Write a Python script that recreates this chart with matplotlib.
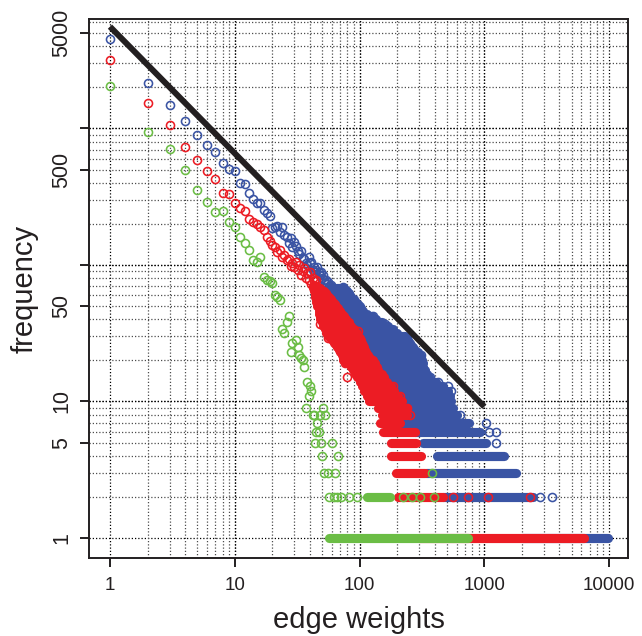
import matplotlib
matplotlib.use('Agg')
import matplotlib.pyplot as plt
from matplotlib.collections import LineCollection
from matplotlib.ticker import FixedLocator, FixedFormatter, NullLocator

plt.rcParams['font.family'] = ['Liberation Sans', 'DejaVu Sans']

# colours of the three series
blue = '#3a54a4'
red = '#ec1c24'
green = '#6bbd45'
ink = '#231f20'

# ---- blue series: single points (weight, frequency)
blue_w = [1, 2, 3, 4, 5, 6, 7, 8, 9, 10, 11, 12, 13, 14, 15, 16, 17, 18, 19, 20,
          21, 22, 23, 24, 25, 26, 27, 28, 29, 30, 31, 32, 33, 34, 35, 36, 37, 38, 39, 40,
          41, 42, 43, 44, 45, 46, 47, 48, 49, 50, 51, 52, 53, 54, 55, 56, 57, 58, 59, 60,
          74, 104, 128, 160, 232, 313, 367, 428, 510, 540, 640, 1025, 1090, 1250, 1230, 2790, 3460]
blue_f = [4500, 2166, 1486, 1140, 896, 757, 669, 557, 505, 490, 401, 394, 335, 306, 284, 285, 254, 240, 230, 186,
          190, 193, 175, 189, 166, 161, 144, 157, 136, 148, 138, 126, 121, 126, 112, 111, 103, 100, 115, 103,
          106, 92, 97, 89, 92, 97, 89, 84, 89, 80, 84, 78, 74, 78, 72, 75, 70, 66, 71, 69,
          69, 46, 42, 37, 25, 22, 15, 14, 13, 12, 8, 7, 6, 6, 5, 2, 2]

# blue: runs of weights sharing one frequency (frequency, lowest weight, highest weight)
blue_lvl = [68, 66, 64, 62, 60, 58, 56, 54, 52, 50, 48, 46, 44, 42, 40, 38, 36, 34, 32, 30,
            29, 28, 27, 26, 25, 24, 23, 22, 21, 20, 19, 18, 17, 16, 15, 14, 13, 12, 11, 10,
            9, 8, 7, 6, 5, 4, 3, 2, 1]
blue_lo = [58, 58, 59, 60, 60, 61, 62, 63, 64, 66, 68, 70, 72, 74, 78, 82, 86, 90, 95, 96,
           98, 100, 102, 104, 106, 108, 111, 114, 120, 125, 130, 135, 138, 145, 155, 160, 180, 190, 205, 225,
           200, 220, 210, 280, 322, 417, 340, 466, 2000]
blue_hi = [75, 78, 80, 82, 84, 86, 90, 94, 97, 100, 102, 106, 115, 126, 135, 150, 170, 185, 200, 230,
           238, 245, 252, 260, 270, 280, 295, 305, 310, 315, 320, 325, 335, 350, 360, 410, 470, 510, 530, 540,
           560, 600, 760, 920, 1040, 1450, 1800, 2450, 9700]

# ---- red series
red_w = [1, 2, 3, 4, 5, 6, 7, 8, 9, 10, 11, 12, 13, 14, 15, 16, 17, 18, 19, 20,
         21, 22, 23, 24, 25, 26, 27, 28, 29, 30, 31, 32, 33, 34, 35, 36, 37, 38, 39, 40,
         41, 42, 43, 44, 45,
         48, 56, 76, 79, 97, 186, 210, 240, 254, 180, 146, 560, 735, 1060, 2320]
red_f = [3175, 1530, 1055, 728, 590, 488, 424, 335, 330, 285, 260, 250, 218, 208, 198, 190, 180, 161, 150, 140,
         136, 125, 129, 115, 118, 108, 111, 98, 103, 96, 106, 92, 100, 85, 90, 95, 80, 88, 78, 89,
         72, 80, 76, 70, 78,
         37, 29, 19, 15, 33, 13, 11, 9, 8, 9, 9, 2, 2, 2, 2]

red_lvl = [70, 68, 66, 64, 62, 60, 58, 56, 54, 52, 50, 48, 46, 44, 42, 40, 38, 36, 34, 32,
           30, 29, 28, 27, 26, 25, 24, 23, 22, 21, 20, 19, 18, 17, 16, 15, 14, 13, 12, 11,
           10, 9, 8, 7, 6, 5, 4, 3, 2, 1]
red_lo = [42, 42, 43, 43, 44, 44, 44, 45, 45, 46, 46, 47, 47, 47, 48, 48, 50, 51, 53, 54,
          56, 58, 60, 62, 65, 66, 68, 70, 72, 73, 74, 78, 85, 88, 92, 95, 100, 104, 108, 114,
          118, 140, 150, 145, 155, 180, 180, 195, 205, 300]
red_hi = [46, 48, 50, 52, 54, 55, 57, 59, 61, 63, 65, 67, 70, 72, 75, 78, 82, 86, 90, 96,
          98, 100, 102, 104, 106, 108, 110, 113, 116, 122, 128, 133, 137, 140, 150, 158, 165, 180, 190, 205,
          220, 240, 240, 210, 280, 285, 310, 335, 470, 6300]

# ---- green series
green_w = [1, 2, 3, 4, 5, 6, 7, 8, 9, 10, 11, 12, 13, 14, 15, 16, 17, 18, 19, 20,
           21, 22, 23, 24, 25, 26, 27, 28, 29, 31, 32, 33, 34, 35, 36, 37, 38, 39, 40, 41,
           42, 43, 44, 45, 46, 47, 48, 49, 50, 51, 52, 53, 56, 60, 64, 67, 378,
           57, 62, 66, 71, 83, 95, 223, 261, 305, 395]
green_f = [2048, 943, 711, 494, 354, 291, 246, 250, 208, 190, 161, 144, 129, 109, 106, 115, 82, 78, 76, 74,
           60, 58, 55, 34, 32, 38, 42, 23, 27, 28, 25, 22, 21, 20, 18, 9, 14, 11, 13, 12,
           8, 8, 5, 6, 7, 6, 8, 5, 4, 9, 3, 8, 3, 5, 3, 4, 3,
           2, 2, 2, 2, 2, 2, 2, 2, 2, 2]

green_lvl = [2, 1]
green_lo = [114, 57]
green_hi = [175, 740]

# power-law guide line
guide_w = [1, 1000]
guide_f = [5570, 9.16]

xticks = [1, 10, 100, 1000, 10000]
yticks = [1, 5, 10, 50, 100, 500, 1000, 5000]
ylabels = ['1', '5', '10', '50', '', '500', '', '5000']

fig = plt.figure(figsize=(6.42, 6.36), dpi=100)
ax = fig.add_axes([89 / 642, 1 - 558 / 636, 539 / 642, 539 / 636])
ax.set_xscale('log')
ax.set_yscale('log')
ax.set_xlim(10 ** -0.168, 10 ** 4.151)
ax.set_ylim(10 ** -0.1465, 10 ** 3.802)

# dotted grid, decades darker
for dec in [1, 10, 100, 1000]:
    for k in range(1, 11):
        v = k * dec
        col = '0.0' if k in (1, 10) else '0.3'
        ax.axvline(v, color=col, lw=0.9, ls=(0, (1, 1.6)), zorder=0)
        ax.axhline(v, color=col, lw=0.9, ls=(0, (1, 1.6)), zorder=0)

ms = 5.8
mew = 1.15
band_lw = 6.6


def draw(w, f, lvl, lo, hi, col, z):
    segs = [[(a, y), (b, y)] for y, a, b in zip(lvl, lo, hi)]
    lc = LineCollection(segs, colors=col, linewidths=band_lw, capstyle='round', zorder=z)
    ax.add_collection(lc)
    ax.plot(w, f, 'o', ls='none', ms=ms, mfc='none', mec=col, mew=mew, zorder=z)


draw(blue_w, blue_f, blue_lvl, blue_lo, blue_hi, blue, 2)
draw(red_w, red_f, red_lvl, red_lo, red_hi, red, 3)
draw(green_w, green_f, green_lvl, green_lo, green_hi, green, 4)

ax.plot(guide_w, guide_f, color=ink, lw=4.3, solid_capstyle='butt', zorder=5)

ax.xaxis.set_major_locator(FixedLocator(xticks))
ax.xaxis.set_major_formatter(FixedFormatter([str(t) for t in xticks]))
ax.xaxis.set_minor_locator(NullLocator())
ax.yaxis.set_major_locator(FixedLocator(yticks))
ax.yaxis.set_major_formatter(FixedFormatter(ylabels))
ax.yaxis.set_minor_locator(NullLocator())

ax.tick_params(direction='out', length=6.5, width=1.4, colors=ink)
ax.tick_params(axis='x', pad=7, labelsize=13.5)
ax.tick_params(axis='y', pad=5.5, labelsize=15.5)
for lab in ax.get_yticklabels():
    lab.set_rotation(90)
    lab.set_va('center')
for s in ax.spines.values():
    s.set_linewidth(1.4)
    s.set_color(ink)

ax.set_xlabel('edge weights', fontsize=21, color=ink)
ax.set_ylabel('frequency', fontsize=21, color=ink)
ax.xaxis.set_label_coords(0.5, (558 - 606) / 539)
ax.yaxis.set_label_coords((39 - 89) / 539, 0.5)

fig.savefig('out.png', dpi=100)
